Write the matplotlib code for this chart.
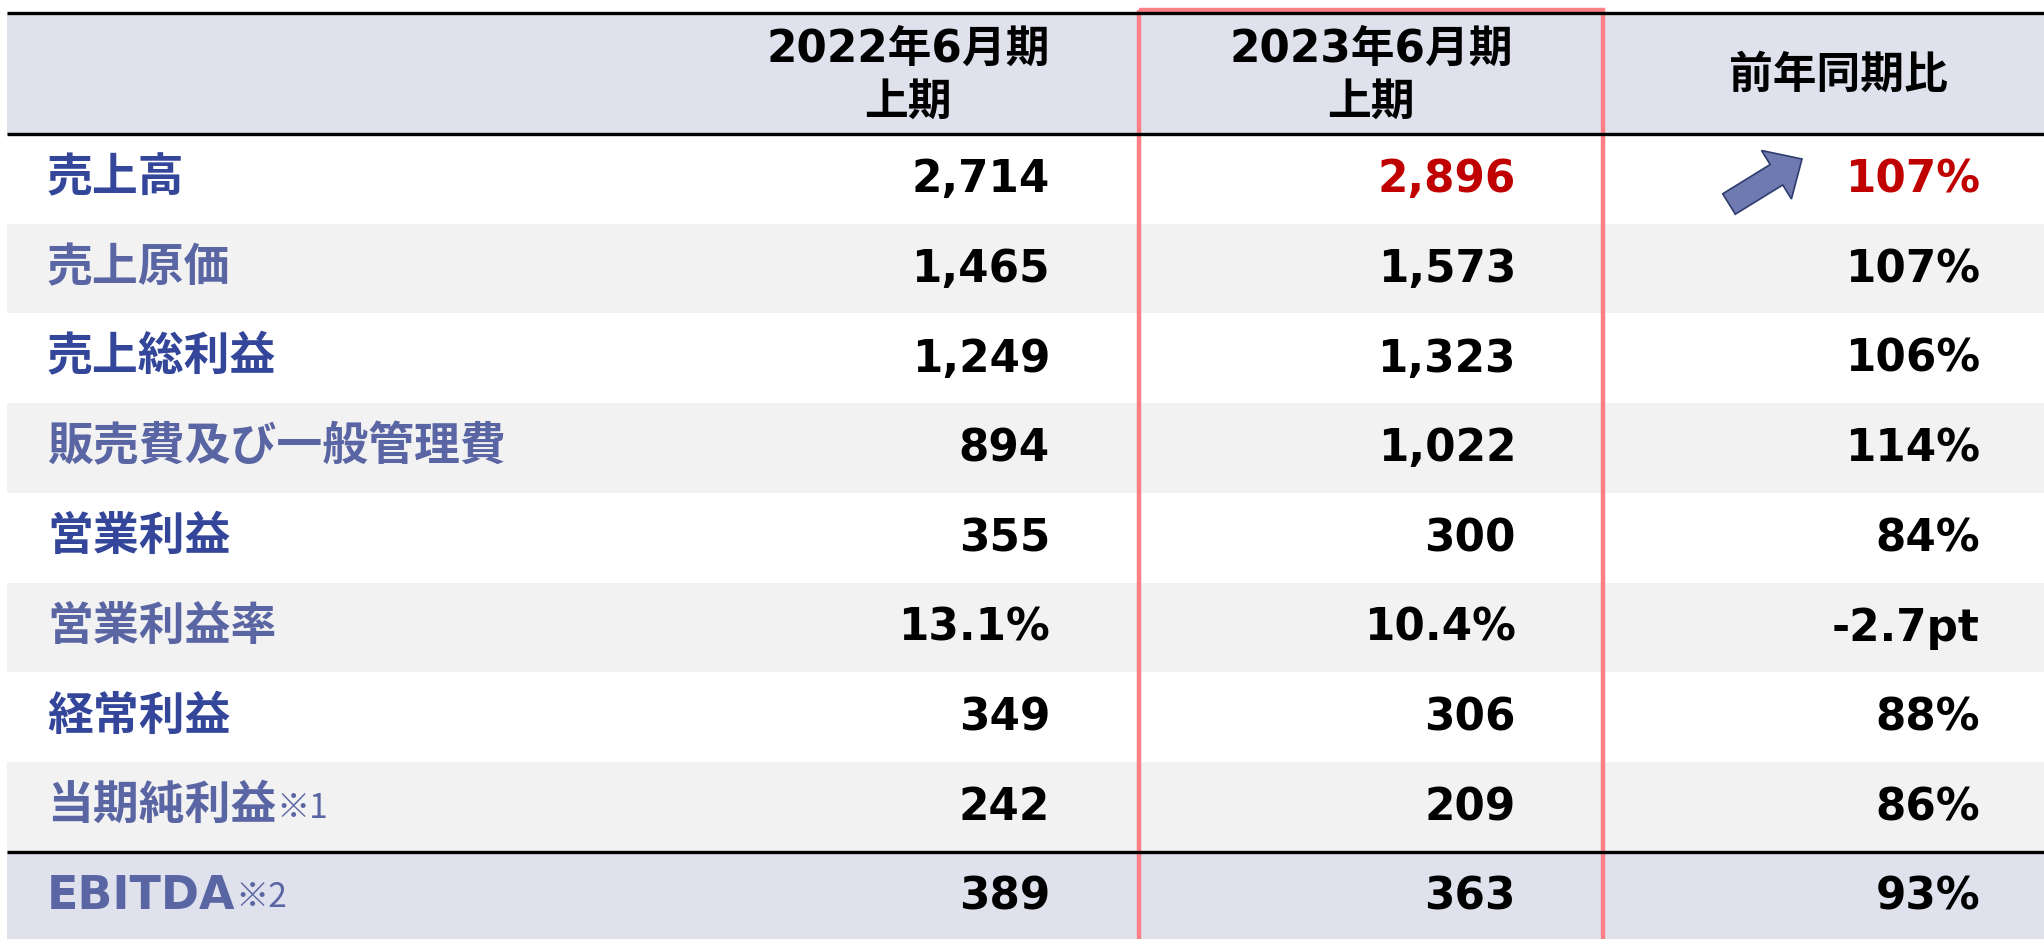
import matplotlib.pyplot as plt
import matplotlib.patches as mpatches

# table data
col_headers = ['2022年6月期\n上期', '2023年6月期\n上期', '前年同期比']
labels = ['売上高', '売上原価', '売上総利益', '販売費及び一般管理費', '営業利益',
          '営業利益率', '経常利益', '当期純利益', 'EBITDA']
notes = ['', '', '', '', '', '', '', '※1', '※2']
fy2022 = ['2,714', '1,465', '1,249', '894', '355', '13.1%', '349', '242', '389']
fy2023 = ['2,896', '1,573', '1,323', '1,022', '300', '10.4%', '306', '209', '363']
yoy = ['107%', '107%', '106%', '114%', '84%', '-2.7pt', '88%', '86%', '93%']

# styles
HEADER_BG = '#DFE1EC'
GRAY_BG = '#F2F2F2'
DARK_BLUE = '#33469A'
LIGHT_BLUE = '#5A65A3'
RED = '#C00000'
BOX_RED = '#FF7F86'
FONT = ['DejaVu Sans', 'Noto Sans CJK JP']

W, H = 2044, 939
fig = plt.figure(figsize=(W / 100, H / 100), dpi=100)
ax = fig.add_axes([0, 0, 1, 1])
ax.set_xlim(0, W)
ax.set_ylim(H, 0)
ax.axis('off')

left = 7
top = 13
header_bottom = 134
row_h = 89.7
col_right = [1050, 1516, 1980]
col_center = [908, 1371, 1838]

# header band
ax.add_patch(mpatches.Rectangle((left, top), W - left, header_bottom - top,
                                facecolor=HEADER_BG, edgecolor='none'))
for j, h in enumerate(col_headers):
    ax.text(col_center[j], (top + header_bottom) / 2 + 2, h, ha='center', va='center',
            fontsize=31.5, fontweight='bold', family=FONT, linespacing=1.3, color='black')

# body rows
for i, lab in enumerate(labels):
    y0 = header_bottom + i * row_h
    yc = y0 + row_h / 2
    if i == len(labels) - 1:
        bg = HEADER_BG
    elif i % 2 == 1:
        bg = GRAY_BG
    else:
        bg = None
    if bg:
        ax.add_patch(mpatches.Rectangle((left, y0), W - left, row_h,
                                        facecolor=bg, edgecolor='none'))
    lab_color = DARK_BLUE if i % 2 == 0 and i != len(labels) - 1 else LIGHT_BLUE
    t = ax.text(47, yc, lab, ha='left', va='center', fontsize=33, fontweight='bold',
                family=FONT, color=lab_color)
    if notes[i]:
        ax.annotate(notes[i], xy=(1, 0.08), xycoords=t, ha='left', va='bottom',
                    fontsize=24, family=['Noto Sans CJK JP'], color=lab_color)
    vals = [fy2022[i], fy2023[i], yoy[i]]
    for j, v in enumerate(vals):
        c = RED if (i == 0 and j > 0) else 'black'
        ax.text(col_right[j], yc + 1, v, ha='right', va='center', fontsize=31.5,
                fontweight='bold', family=FONT, color=c)

# rules
for yl in [top, header_bottom, header_bottom + (len(labels) - 1) * row_h]:
    ax.plot([left, W], [yl, yl], color='black', lw=2.4, solid_capstyle='butt')

# highlight box around current period
ax.add_patch(mpatches.Rectangle((1139, 10), 1603 - 1139, H + 20, fill=False,
                                edgecolor=BOX_RED, lw=3.2))

# up arrow next to sales growth
ax.add_patch(mpatches.FancyArrow(1729, 204, 73, -45, width=24, head_width=57,
                                 head_length=30, length_includes_head=True,
                                 facecolor='#6E7AB0', edgecolor='#2F3C6E', lw=1.2))

fig.savefig('out.png', dpi=100)
